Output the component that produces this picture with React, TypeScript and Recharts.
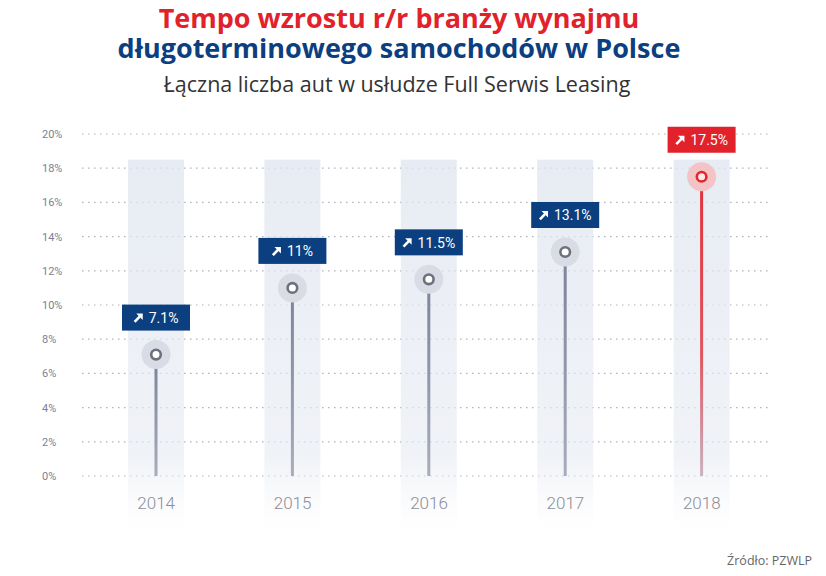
import React from 'react';
import { ComposedChart, Bar, XAxis, YAxis, CartesianGrid } from 'recharts';

const years = ['2014', '2015', '2016', '2017', '2018'];
const growth = [7.1, 11, 11.5, 13.1, 17.5];
const growthLabels = ['7.1%', '11%', '11.5%', '13.1%', '17.5%'];
const bandTop = 18.5;
const highlightYear = '2018';
const yTicks = [0, 2, 4, 6, 8, 10, 12, 14, 16, 18, 20];

const data = years.map((y, i) => ({
  year: y,
  value: growth[i],
  label: growthLabels[i],
  band: bandTop,
}));

const charW = (c: string) => {
  if (c === '.') return 0.26;
  if (c === '%') return 0.73;
  return 0.56;
};
const textWidth = (s: string, size: number) =>
  s.split('').reduce((a, c) => a + charW(c), 0) * size;

const BandShape = (props: any) => {
  const { x, y, width, height } = props;
  return <rect x={x} y={y} width={width} height={height + 55} fill="url(#bandGrad)" />;
};

const StemShape = (props: any) => {
  const { x, y, width, height, payload } = props;
  const hi = payload.year === highlightYear;
  const cx = x + width / 2;
  const cy = y;
  const fontSize = 14;
  const tw = textWidth(payload.label, fontSize);
  const contentW = 9 + 6 + tw;
  const startX = cx - contentW / 2;
  const boxW = 68;
  const boxH = 26;
  const boxBottom = cy - 24;
  const boxTop = boxBottom - boxH;
  return (
    <g>
      <rect x={cx - 1.5} y={cy} width={3} height={height} fill={hi ? 'url(#stemRed)' : 'url(#stemGray)'} />
      <circle cx={cx} cy={cy} r={14.5} fill={hi ? '#f4c3c6' : '#d9dce4'} />
      <circle cx={cx} cy={cy} r={4.8} fill={hi ? '#fde8e8' : '#ffffff'} stroke={hi ? '#e3262d' : '#6c717e'} strokeWidth={2.6} />
      <rect x={cx - boxW / 2} y={boxTop} width={boxW} height={boxH} fill={hi ? '#e1222a' : '#0b3f80'} />
      <g transform={`translate(${startX}, ${boxTop + 9})`}>
        <path d="M2.5,0 L9,0 L9,6.5 Z" fill="#ffffff" />
        <line x1={0.9} y1={8.3} x2={6.2} y2={2.8} stroke="#ffffff" strokeWidth={2.6} />
      </g>
      <text
        x={startX + 15}
        y={boxTop + 18.5}
        fill="#ffffff"
        fontSize={fontSize}
        fontFamily="Roboto, sans-serif"
        textAnchor="start"
      >
        {payload.label}
      </text>
    </g>
  );
};

const YTick = (props: any) => {
  const { y, payload } = props;
  return (
    <text x={42} y={y + 4} fontSize={11} fill="#7b8194" fontFamily="Roboto, sans-serif" textAnchor="start">
      {`${payload.value}%`}
    </text>
  );
};

const XTick = (props: any) => {
  const { x, payload } = props;
  return (
    <text x={x} y={509} fontSize={17} fill="#8a8e99" fontFamily="Roboto, sans-serif" fontWeight={300} textAnchor="middle">
      {payload.value}
    </text>
  );
};

export default function App() {
  return (
    <div style={{ position: 'absolute', left: 0, top: 0, width: 826, height: 576, background: '#ffffff' }}>
      <ComposedChart
        width={826}
        height={576}
        data={data}
        margin={{ top: 134, right: 56, bottom: 70, left: 0 }}
        barCategoryGap={0}
      >
        <defs>
          <linearGradient id="bandGrad" x1="0" y1="0" x2="0" y2="1">
            <stop offset="0" stopColor="#dfe5ef" stopOpacity={0.75} />
            <stop offset="0.8" stopColor="#e6eaf2" stopOpacity={0.6} />
            <stop offset="1" stopColor="#f0f2f6" stopOpacity={0} />
          </linearGradient>
          <linearGradient id="stemGray" x1="0" y1="0" x2="0" y2="1">
            <stop offset="0" stopColor="#7b829a" />
            <stop offset="1" stopColor="#a8acbc" />
          </linearGradient>
          <linearGradient id="stemRed" x1="0" y1="0" x2="0" y2="1">
            <stop offset="0" stopColor="#e5303a" />
            <stop offset="0.6" stopColor="#e0565f" />
            <stop offset="1" stopColor="#c8b3c0" />
          </linearGradient>
        </defs>
        <CartesianGrid
          horizontal
          vertical={false}
          stroke="#aeb2be"
          strokeDasharray="1.5 4.5"
          strokeWidth={1.2}
        />
        <XAxis
          xAxisId="main"
          dataKey="year"
          axisLine={false}
          tickLine={false}
          tick={<XTick />}
          padding={{ left: 6, right: 0 }}
          height={30}
        />
        <XAxis xAxisId="bg" dataKey="year" hide padding={{ left: 6, right: 0 }} />
        <YAxis
          domain={[0, 20]}
          ticks={yTicks}
          axisLine={false}
          tickLine={false}
          tick={<YTick />}
          width={82}
          interval={0}
        />
        <Bar xAxisId="bg" dataKey="band" barSize={56} shape={<BandShape />} isAnimationActive={false} />
        <Bar xAxisId="main" dataKey="value" barSize={56} shape={<StemShape />} isAnimationActive={false} />
      </ComposedChart>
      <svg width={826} height={576} style={{ position: 'absolute', left: 0, top: 0, pointerEvents: 'none' }}>
        <text x={399} y={28} textAnchor="middle" fontSize={27} fontWeight={700} fill="#e1222a" fontFamily="'Open Sans', sans-serif">
          Tempo wzrostu r/r branży wynajmu
        </text>
        <text x={399} y={58} textAnchor="middle" fontSize={27} fontWeight={700} fill="#0b3f80" fontFamily="'Open Sans', sans-serif">
          długoterminowego samochodów w Polsce
        </text>
        <text x={397} y={92} textAnchor="middle" fontSize={21.5} fontWeight={400} fill="#333333" fontFamily="'Open Sans', sans-serif">
          Łączna liczba aut w usłudze Full Serwis Leasing
        </text>
        <text x={812} y={565} textAnchor="end" fontSize={12.5} fill="#666666" fontFamily="'Open Sans', sans-serif">
          Źródło: PZWLP
        </text>
      </svg>
    </div>
  );
}
